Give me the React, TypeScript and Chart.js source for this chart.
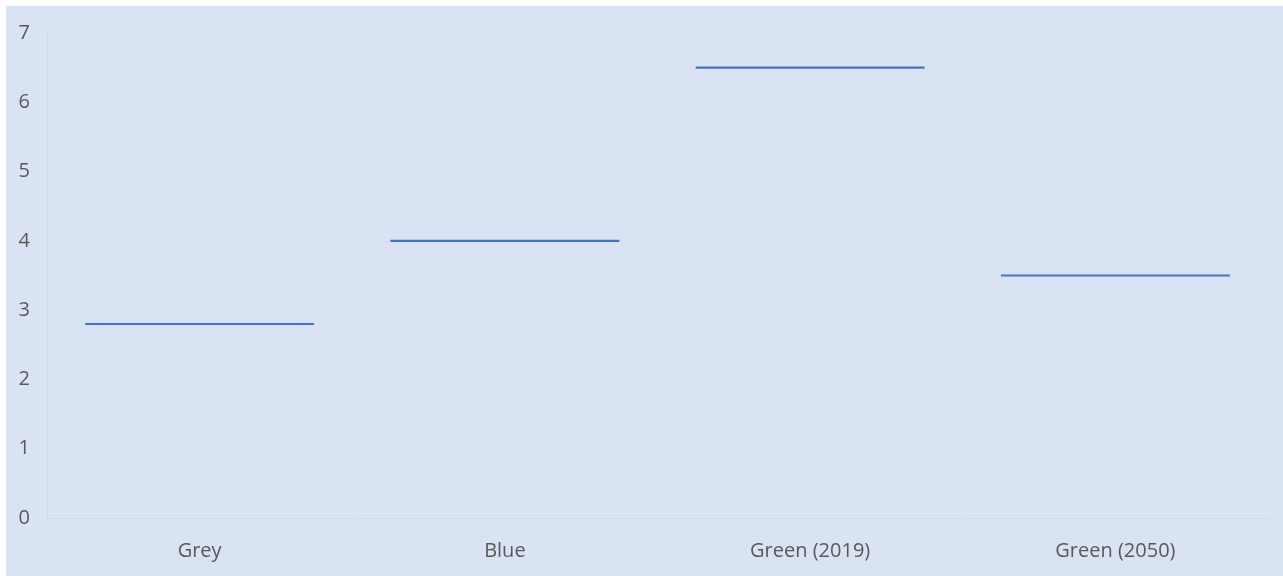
import React, { useEffect, useRef } from "react";
import { Chart, registerables } from "chart.js";

Chart.register(...registerables);

const categories = ["Grey", "Blue", "Green (2019)", "Green (2050)"];
const values = [2.8, 4.0, 6.5, 3.5];
const yTicks = [0, 1, 2, 3, 4, 5, 6, 7];
const lineHalf = 0.015;

export default function App() {
  const ref = useRef<HTMLCanvasElement | null>(null);

  useEffect(() => {
    document.body.style.margin = "0";
    const ctx = ref.current;
    if (!ctx) return;
    const chart = new Chart(ctx, {
      type: "bar",
      data: {
        labels: categories,
        datasets: [
          {
            data: values.map((v) => [v - lineHalf, v + lineHalf]) as any,
            backgroundColor: "#4472c4",
            borderWidth: 0,
            barPercentage: 0.75,
            categoryPercentage: 1,
          },
        ],
      },
      options: {
        animation: false,
        responsive: false,
        maintainAspectRatio: false,
        layout: { padding: { top: 27, right: 15, left: 0, bottom: 0 } },
        plugins: { legend: { display: false }, tooltip: { enabled: false } },
        scales: {
          x: {
            grid: { display: false, drawTicks: false },
            border: { display: true, color: "#d9d9d9", width: 1 },
            ticks: {
              color: "#595959",
              font: { family: "Open Sans", size: 20 },
              padding: 21,
            },
            afterFit: (s: any) => {
              s.height = 58;
            },
          },
          y: {
            min: 0,
            max: 7,
            afterBuildTicks: (s: any) => {
              s.ticks = yTicks.map((v) => ({ value: v }));
            },
            grid: { display: false, drawTicks: false },
            border: { display: true, color: "#d9d9d9", width: 1 },
            ticks: {
              color: "#595959",
              font: { family: "Open Sans", size: 20 },
              padding: 17,
            },
            afterFit: (s: any) => {
              s.width = 41;
              s.paddingTop = 0;
              s.paddingBottom = 0;
            },
          },
        },
      },
    });
    return () => chart.destroy();
  }, []);

  return (
    <div
      style={{
        position: "absolute",
        left: 6,
        top: 6,
        width: 1277,
        height: 570,
        background: "#dae3f3",
      }}
    >
      <canvas ref={ref} width={1277} height={570} style={{ display: "block" }} />
    </div>
  );
}
